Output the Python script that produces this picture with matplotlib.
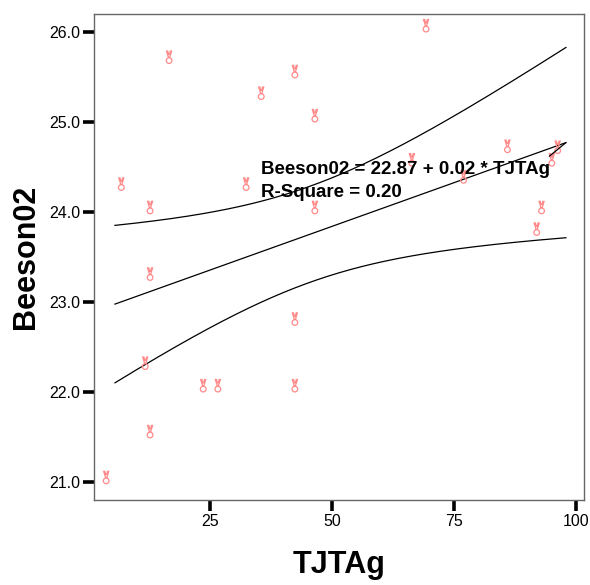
import numpy as np
import matplotlib
matplotlib.use("Agg")
import matplotlib.pyplot as plt
from matplotlib.path import Path

# data
tjtag = [3.7, 6.8, 12.7, 12.7, 11.7, 12.7, 16.6, 23.6, 26.6, 32.4, 35.5, 42.4,
         42.4, 42.4, 46.5, 46.5, 66.4, 69.3, 77.0, 86.0, 92.0, 93.0, 95.1, 96.3]
beeson02 = [21.05, 24.31, 24.05, 23.31, 22.32, 21.56, 25.72, 22.07, 22.07, 24.31,
            25.32, 25.56, 22.81, 22.07, 25.07, 24.05, 24.58, 26.07, 24.39, 24.73,
            23.81, 24.05, 24.58, 24.72]
fit_intercept = 22.87
fit_slope = 0.0194
fit_x_range = [5.5, 98.0]
t_crit = 2.04

xticks = [25, 50, 75, 100]
yticks = [21.0, 22.0, 23.0, 24.0, 25.0, 26.0]

plt.rcParams['font.family'] = ['Liberation Sans', 'DejaVu Sans']

# "victory hand" style marker: two finger strokes and a palm ring
fingers = Path([(-0.4, 1.0), (-0.08, -0.05), (0.4, 1.0), (0.08, -0.05),
                (-0.22, 1.0), (-0.05, 0.35), (0.22, 1.0), (0.05, 0.35)],
               [Path.MOVETO, Path.LINETO, Path.MOVETO, Path.LINETO,
                Path.MOVETO, Path.LINETO, Path.MOVETO, Path.LINETO])
palm = Path.circle(center=(0.0, -0.5), radius=0.42)
hand = Path.make_compound_path(fingers, palm)

fig = plt.figure(figsize=(5.9, 5.85), dpi=100)
ax = fig.add_axes([94/590, 85/585, 490/590, 486/585])

x = np.array(tjtag)
y = np.array(beeson02)
n = len(x)
xs = np.linspace(fit_x_range[0], fit_x_range[1], 200)
yfit = fit_intercept + fit_slope * xs
resid = y - (fit_intercept + fit_slope * x)
s = np.sqrt(np.sum(resid**2) / (n - 2))
sxx = np.sum((x - x.mean())**2)
half = t_crit * s * np.sqrt(1.0/n + (xs - x.mean())**2 / sxx)

ax.plot(xs, yfit, color='black', lw=0.9)
ax.plot(xs, yfit + half, color='black', lw=0.9)
ax.plot(xs, yfit - half, color='black', lw=0.9)

ax.scatter(x, y, marker=hand, s=95, facecolors='none', edgecolors='#ff8a8a',
           linewidths=0.9, zorder=3)

ax.text(35.5, 24.47, 'Beeson02 = 22.87 + 0.02 * TJTAg', fontsize=13.5,
        fontweight='bold', va='center', ha='left')
ax.text(35.5, 24.22, 'R-Square = 0.20', fontsize=13.5,
        fontweight='bold', va='center', ha='left')
xe = fit_x_range[1]
ax.annotate('', xy=(xe, fit_intercept + fit_slope * xe), xytext=(94.6, 24.62),
            arrowprops=dict(arrowstyle='-', color='black', lw=0.9,
                            shrinkA=0, shrinkB=0))

ax.set_xlim(1.2, 101.7)
ax.set_ylim(20.8, 26.2)
ax.set_xticks(xticks)
ax.set_xticklabels([str(v) for v in xticks])
ax.set_yticks(yticks)
ax.set_yticklabels([f'{v:.1f}' for v in yticks])
ax.tick_params(axis='both', direction='out', length=8, width=2.6,
               labelsize=11.5, pad=2, color='black')
for sp in ax.spines.values():
    sp.set_color('#666666')
    sp.set_linewidth(1.0)

ax.set_xlabel('TJTAg', fontsize=22, fontweight='bold', labelpad=15)
ax.set_ylabel('Beeson02', fontsize=22, fontweight='bold', labelpad=6)

fig.savefig('out.png', dpi=100)
